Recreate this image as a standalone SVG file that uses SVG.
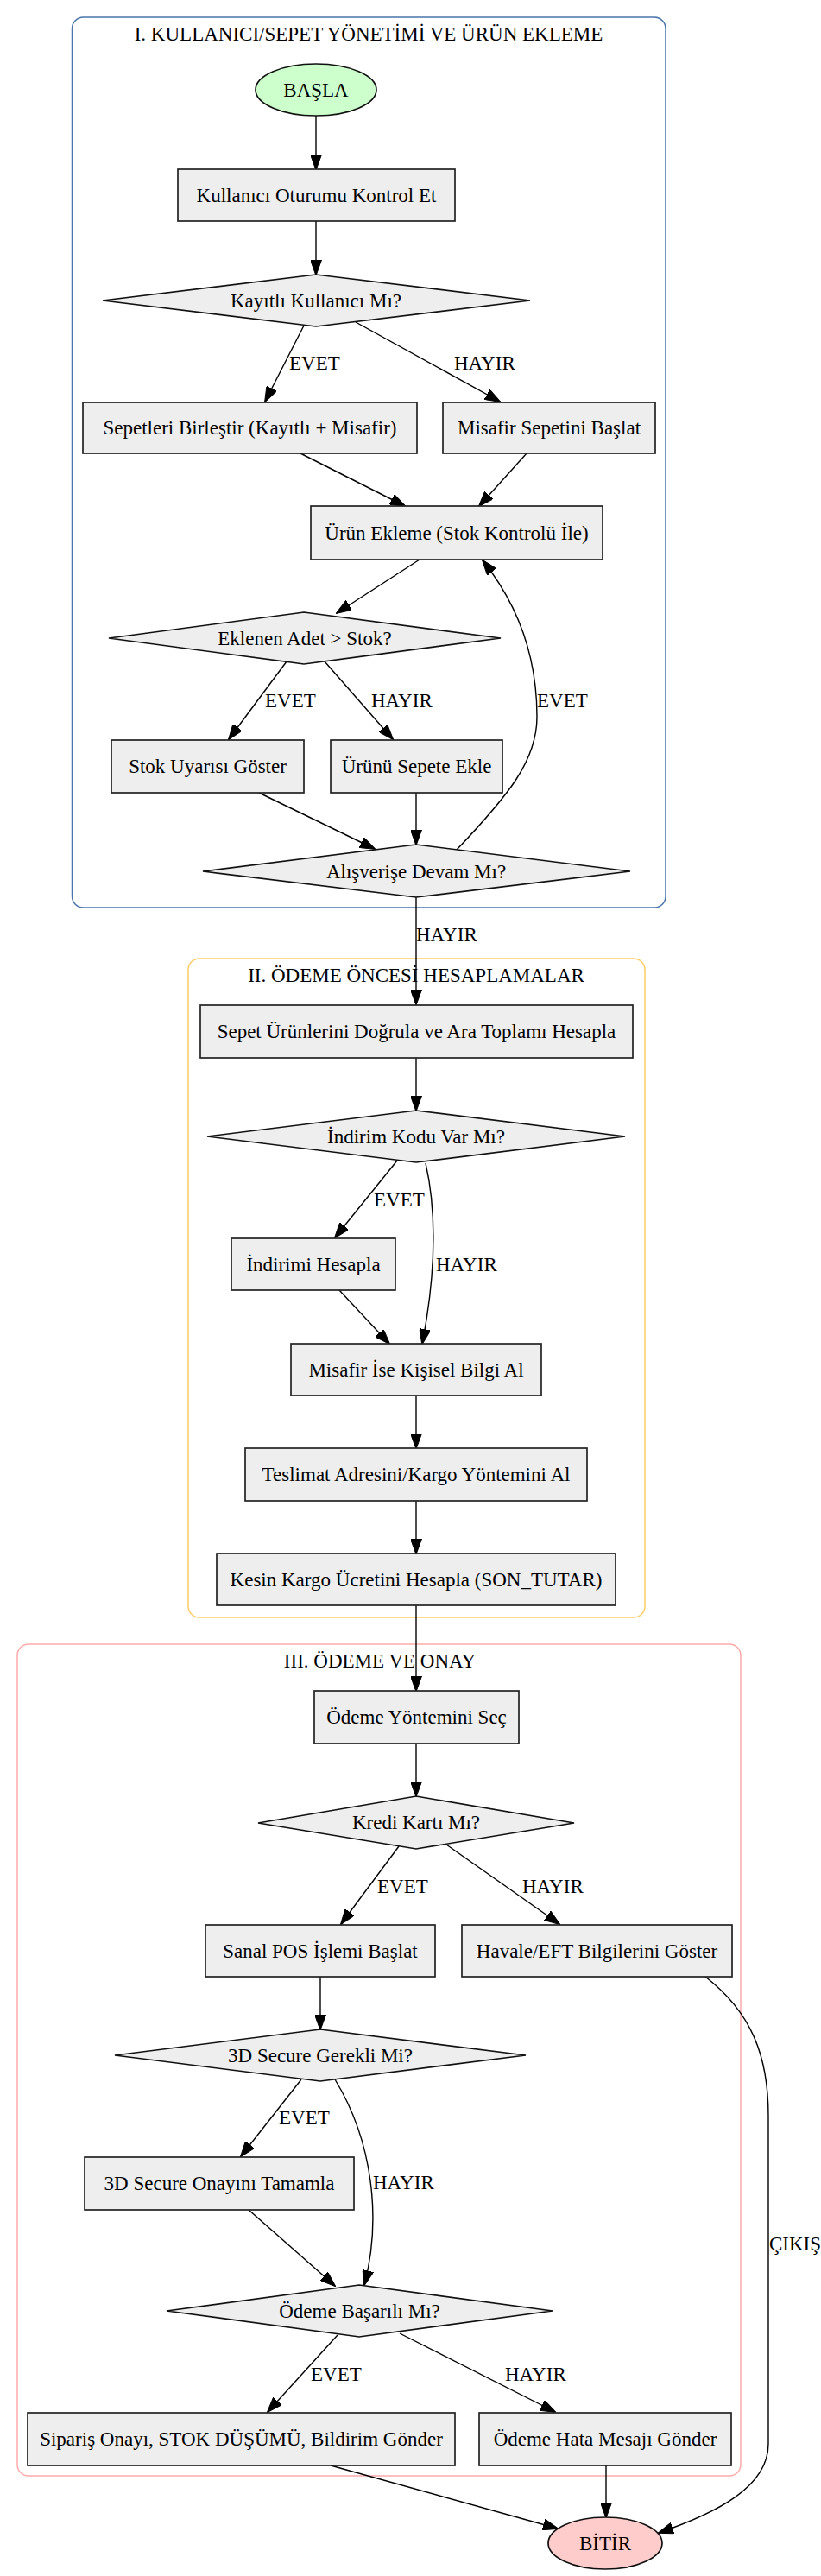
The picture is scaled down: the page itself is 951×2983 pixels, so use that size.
<svg xmlns="http://www.w3.org/2000/svg" width="951" height="2983" viewBox="0 0 951 2983">
<style>
text{font-family:"Liberation Serif","Times New Roman",serif;font-size:23px;fill:#000}
.n{text-anchor:middle}
.box{fill:#eeeeee;stroke:#222;stroke-width:1.7}
.dia{fill:#eeeeee;stroke:#111;stroke-width:1.7}
.e{fill:none;stroke:#000;stroke-width:1.4}
.cl{fill:none;stroke-width:1.5}
</style>
<defs>
<marker id="ah" markerUnits="userSpaceOnUse" viewBox="0 0 18 13" refX="17" refY="6.5" markerWidth="18" markerHeight="13" orient="auto">
<path d="M0,0 L18,6.5 L0,13 z" fill="#000" stroke="#000" stroke-width="1"/>
</marker>
</defs>
<rect width="951" height="2983" fill="#fff"/>
<g id="cluster1">
<rect class="cl" x="83.5" y="20" width="687.5" height="1031" rx="13" stroke="#4a76ac"/>
<text class="n" x="427" y="47">I. KULLANICI/SEPET YÖNETİMİ VE ÜRÜN EKLEME</text>
</g>
<g id="cluster2">
<rect class="cl" x="218" y="1110" width="529" height="763" rx="13" stroke="#ffcc66"/>
<text class="n" x="482" y="1137">II. ÖDEME ÖNCESİ HESAPLAMALAR</text>
</g>
<g id="cluster3">
<rect class="cl" x="20" y="1904" width="838" height="963" rx="13" stroke="#ffaaaa"/>
<text class="n" x="440" y="1931">III. ÖDEME VE ONAY</text>
</g>
<g id="connectors">
<path class="e" marker-end="url(#ah)" d="M366,134 L366,196"/>
<path class="e" marker-end="url(#ah)" d="M366,256 L366,318"/>
<path class="e" marker-end="url(#ah)" d="M352,377 L307,465"/>
<path class="e" marker-end="url(#ah)" d="M412,373 L579,465"/>
<path class="e" marker-end="url(#ah)" d="M348,525 L469,586"/>
<path class="e" marker-end="url(#ah)" d="M610,525 L555,586"/>
<path class="e" marker-end="url(#ah)" d="M486,648 L390,710"/>
<path class="e" marker-end="url(#ah)" d="M332,766 L265,856"/>
<path class="e" marker-end="url(#ah)" d="M376,766 L455,856"/>
<path class="e" marker-end="url(#ah)" d="M300,918 L434,983"/>
<path class="e" marker-end="url(#ah)" d="M482,918 L482,978"/>
<path class="e" marker-end="url(#ah)" d="M529,984 C590,920 622,880 622,830 C622,760 600,700 559,649"/>
<path class="e" marker-end="url(#ah)" d="M482,1039 L482,1163"/>
<path class="e" marker-end="url(#ah)" d="M482,1225 L482,1286"/>
<path class="e" marker-end="url(#ah)" d="M460,1344 L388,1433"/>
<path class="e" marker-end="url(#ah)" d="M493,1347 C503,1390 508,1460 489,1556"/>
<path class="e" marker-end="url(#ah)" d="M393,1494 L451,1556"/>
<path class="e" marker-end="url(#ah)" d="M482,1616 L482,1677"/>
<path class="e" marker-end="url(#ah)" d="M482,1738 L482,1799"/>
<path class="e" marker-end="url(#ah)" d="M482,1859 L482,1958"/>
<path class="e" marker-end="url(#ah)" d="M482,2019 L482,2080"/>
<path class="e" marker-end="url(#ah)" d="M462,2138 L395,2228"/>
<path class="e" marker-end="url(#ah)" d="M517,2136 L648,2228"/>
<path class="e" marker-end="url(#ah)" d="M371,2289 L371,2350"/>
<path class="e" marker-end="url(#ah)" d="M349,2408 L279,2497"/>
<path class="e" marker-end="url(#ah)" d="M388,2408 C432,2480 442,2570 422,2646"/>
<path class="e" marker-end="url(#ah)" d="M288,2559 L388,2647"/>
<path class="e" marker-end="url(#ah)" d="M817,2289 C870,2330 890,2380 890,2450 L890,2830 C890,2880 830,2910 763,2933"/>
<path class="e" marker-end="url(#ah)" d="M391,2704 L310,2793"/>
<path class="e" marker-end="url(#ah)" d="M463,2702 L643,2793"/>
<path class="e" marker-end="url(#ah)" d="M383,2855 L646,2928"/>
<path class="e" marker-end="url(#ah)" d="M702,2855 L702,2915"/>
<text x="335" y="428">EVET</text>
<text x="526" y="428">HAYIR</text>
<text x="307" y="819">EVET</text>
<text x="430" y="819">HAYIR</text>
<text x="622" y="819">EVET</text>
<text x="482" y="1090">HAYIR</text>
<text x="433" y="1397">EVET</text>
<text x="505" y="1472">HAYIR</text>
<text x="437" y="2192">EVET</text>
<text x="605" y="2192">HAYIR</text>
<text x="323" y="2460">EVET</text>
<text x="432" y="2535">HAYIR</text>
<text x="891" y="2606">ÇIKIŞ</text>
<text x="360" y="2757">EVET</text>
<text x="585" y="2757">HAYIR</text>
</g>
<g id="basla"><ellipse cx="366" cy="104" rx="70" ry="30" fill="#ccffcc" stroke="#111" stroke-width="1.7"/><text class="n" x="366" y="112">BAŞLA</text></g>
<g id="kontrol"><rect class="box" x="206" y="196" width="321" height="60"/><text class="n" x="366.5" y="233.5">Kullanıcı Oturumu Kontrol Et</text></g>
<g id="kayitli"><polygon class="dia" points="366,318 614,348 366,378 119,348"/><text class="n" x="366" y="355.5">Kayıtlı Kullanıcı Mı?</text></g>
<g id="birlestir"><rect class="box" x="96" y="466" width="387" height="59"/><text class="n" x="289.5" y="503">Sepetleri Birleştir (Kayıtlı + Misafir)</text></g>
<g id="misafir"><rect class="box" x="513" y="466" width="246" height="59"/><text class="n" x="636" y="503">Misafir Sepetini Başlat</text></g>
<g id="urun"><rect class="box" x="360" y="586" width="338" height="62"/><text class="n" x="529" y="624.5">Ürün Ekleme (Stok Kontrolü İle)</text></g>
<g id="eklenen"><polygon class="dia" points="352,709 580,739 352,769 126,739"/><text class="n" x="353" y="746.5">Eklenen Adet &gt; Stok?</text></g>
<g id="stok"><rect class="box" x="129" y="857" width="223" height="61"/><text class="n" x="240.5" y="895">Stok Uyarısı Göster</text></g>
<g id="sepeteekle"><rect class="box" x="383" y="857" width="199" height="61"/><text class="n" x="482.5" y="895">Ürünü Sepete Ekle</text></g>
<g id="devam"><polygon class="dia" points="482,978 730,1009 482,1039 235,1009"/><text class="n" x="482" y="1016.5">Alışverişe Devam Mı?</text></g>
<g id="dogrula"><rect class="box" x="232" y="1164" width="501" height="61"/><text class="n" x="482.5" y="1202">Sepet Ürünlerini Doğrula ve Ara Toplamı Hesapla</text></g>
<g id="indirimkodu"><polygon class="dia" points="482,1286 724,1316 482,1346 240,1316"/><text class="n" x="482" y="1323.5">İndirim Kodu Var Mı?</text></g>
<g id="indirimhesapla"><rect class="box" x="268" y="1434" width="190" height="60"/><text class="n" x="363" y="1471.5">İndirimi Hesapla</text></g>
<g id="kisisel"><rect class="box" x="337" y="1556" width="290" height="60"/><text class="n" x="482" y="1593.5">Misafir İse Kişisel Bilgi Al</text></g>
<g id="teslimat"><rect class="box" x="284" y="1677" width="396" height="61"/><text class="n" x="482" y="1715">Teslimat Adresini/Kargo Yöntemini Al</text></g>
<g id="kargo"><rect class="box" x="251" y="1799" width="462" height="60"/><text class="n" x="482" y="1836.5">Kesin Kargo Ücretini Hesapla (SON_TUTAR)</text></g>
<g id="odemesec"><rect class="box" x="364" y="1958" width="237" height="61"/><text class="n" x="482.5" y="1996">Ödeme Yöntemini Seç</text></g>
<g id="kredi"><polygon class="dia" points="482,2080 665,2111 482,2141 299,2111"/><text class="n" x="482" y="2118">Kredi Kartı Mı?</text></g>
<g id="sanalpos"><rect class="box" x="238" y="2229" width="266" height="60"/><text class="n" x="371" y="2266.5">Sanal POS İşlemi Başlat</text></g>
<g id="havale"><rect class="box" x="535" y="2229" width="313" height="60"/><text class="n" x="691.5" y="2266.5">Havale/EFT Bilgilerini Göster</text></g>
<g id="secure"><polygon class="dia" points="371,2350 609,2380 371,2410 133,2380"/><text class="n" x="371" y="2387.5">3D Secure Gerekli Mi?</text></g>
<g id="secureonay"><rect class="box" x="98" y="2498" width="312" height="61"/><text class="n" x="254" y="2536">3D Secure Onayını Tamamla</text></g>
<g id="basarili"><polygon class="dia" points="416,2646 640,2676 416,2706 193,2676"/><text class="n" x="416.5" y="2683.5">Ödeme Başarılı Mı?</text></g>
<g id="siparis"><rect class="box" x="32" y="2794" width="495" height="61"/><text class="n" x="279.5" y="2832">Sipariş Onayı, STOK DÜŞÜMÜ, Bildirim Gönder</text></g>
<g id="hata"><rect class="box" x="555" y="2794" width="292" height="61"/><text class="n" x="701" y="2832">Ödeme Hata Mesajı Gönder</text></g>
<g id="bitir"><ellipse cx="701" cy="2945" rx="66" ry="30" fill="#ffcccc" stroke="#111" stroke-width="1.7"/><text class="n" x="701" y="2953">BİTİR</text></g>
</svg>
